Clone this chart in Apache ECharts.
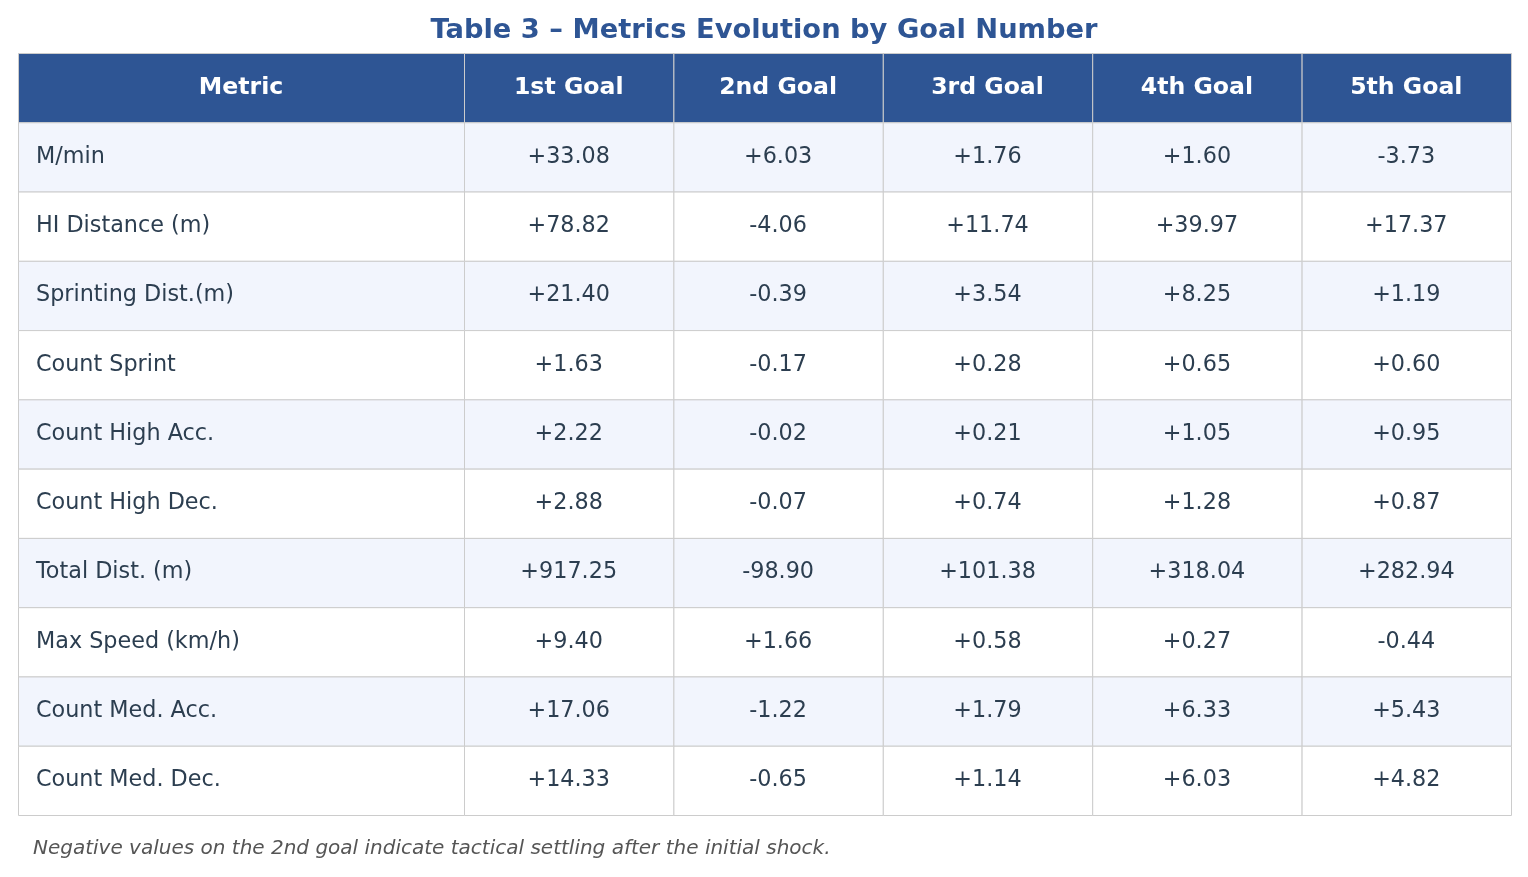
<!DOCTYPE html>
<html lang="en">
<head>
    <meta charset="utf-8">
    <title>Metrics Evolution by Goal Number</title>
    <style>
        * {
            margin: 0;
            padding: 0;
        }

        #chart {
            width: 1528px;
            height: 877px;
            background: #ffffff;
        }
    </style>
</head>
<body>
<div id="chart"></div>
<script src="https://cdn.jsdelivr.net/npm/echarts@6/dist/echarts.min.js"></script>
<script>
    // column headers and row labels
    const columns = ['Metric', '1st Goal', '2nd Goal', '3rd Goal', '4th Goal', '5th Goal'];
    const metrics = [
        'M/min',
        'HI Distance (m)',
        'Sprinting Dist.(m)',
        'Count Sprint',
        'Count High Acc.',
        'Count High Dec.',
        'Total Dist. (m)',
        'Max Speed (km/h)',
        'Count Med. Acc.',
        'Count Med. Dec.'
    ];

    // change per goal, one array per goal column
    const goal1 = [33.08, 78.82, 21.40, 1.63, 2.22, 2.88, 917.25, 9.40, 17.06, 14.33];
    const goal2 = [6.03, -4.06, -0.39, -0.17, -0.02, -0.07, -98.90, 1.66, -1.22, -0.65];
    const goal3 = [1.76, 11.74, 3.54, 0.28, 0.21, 0.74, 101.38, 0.58, 1.79, 1.14];
    const goal4 = [1.60, 39.97, 8.25, 0.65, 1.05, 1.28, 318.04, 0.27, 6.33, 6.03];
    const goal5 = [-3.73, 17.37, 1.19, 0.60, 0.95, 0.87, 282.94, -0.44, 5.43, 4.82];
    const goals = [goal1, goal2, goal3, goal4, goal5];

    const note = 'Negative values on the 2nd goal indicate tactical settling after the initial shock.';

    // relative column widths (first column is wider)
    const colWeights = [2.13, 1, 1, 1, 1, 1];
    const colEdges = [0];
    colWeights.forEach(function (w, i) {
        colEdges.push(colEdges[i] + w);
    });

    const fmt = function (v) {
        return (v > 0 ? '+' : '') + v.toFixed(2);
    };

    const rowNames = ['header'].concat(metrics);

    // one data item per cell: [col, row, text]
    const cells = [];
    columns.forEach(function (c, ci) {
        cells.push([ci, 0, c]);
    });
    metrics.forEach(function (m, ri) {
        cells.push([0, ri + 1, m]);
        goals.forEach(function (g, gi) {
            cells.push([gi + 1, ri + 1, fmt(g[ri])]);
        });
    });

    const FONT = '"DejaVu Sans", sans-serif';

    const chart = echarts.init(document.getElementById('chart'), null, {renderer: 'canvas'});

    const option = {
        backgroundColor: '#ffffff',
        animation: false,
        title: [
            {
                text: 'Table 3 \u2013 Metrics Evolution by Goal Number',
                left: 'center',
                top: 12,
                textStyle: {
                    color: '#2E5594',
                    fontSize: 27.3,
                    fontWeight: 'bold',
                    fontFamily: FONT
                }
            },
            {
                text: note,
                left: 28,
                top: 834,
                textStyle: {
                    color: '#555555',
                    fontSize: 20,
                    fontStyle: 'italic',
                    fontWeight: 'normal',
                    fontFamily: FONT
                }
            }
        ],
        grid: {
            left: 18,
            right: 17,
            top: 53,
            bottom: 62
        },
        xAxis: {
            type: 'value',
            min: 0,
            max: colEdges[colEdges.length - 1],
            show: false
        },
        yAxis: {
            type: 'category',
            data: rowNames,
            inverse: true,
            show: false
        },
        series: [
            {
                type: 'custom',
                data: cells,
                encode: {x: 0, y: 1},
                renderItem: function (params, api) {
                    const col = api.value(0);
                    const row = api.value(1);
                    const text = cells[params.dataIndex][2];
                    const left = api.coord([colEdges[col], row]);
                    const right = api.coord([colEdges[col + 1], row]);
                    const h = api.size([0, 1])[1];
                    const x0 = left[0];
                    const w = right[0] - left[0];
                    const yc = left[1];
                    const isHeader = row === 0;
                    let fill = '#ffffff';
                    if (isHeader) {
                        fill = '#2E5594';
                    } else if (row % 2 === 1) {
                        fill = '#F2F5FD';
                    }
                    return {
                        type: 'group',
                        children: [
                            {
                                type: 'rect',
                                shape: {x: x0 + 0.5, y: yc - h / 2 + 0.5, width: w, height: h},
                                style: {fill: fill, stroke: '#CCCCCC', lineWidth: 1}
                            },
                            {
                                type: 'text',
                                style: {
                                    text: text,
                                    x: (col === 0 && !isHeader) ? x0 + 18 : x0 + w / 2,
                                    y: yc,
                                    align: (col === 0 && !isHeader) ? 'left' : 'center',
                                    verticalAlign: 'middle',
                                    fill: isHeader ? '#ffffff' : '#2C3E50',
                                    fontSize: isHeader ? 23.6 : 22.3,
                                    fontWeight: isHeader ? 'bold' : 'normal',
                                    fontFamily: FONT
                                }
                            }
                        ]
                    };
                }
            }
        ]
    };

    chart.setOption(option);
</script>
</body>
</html>
